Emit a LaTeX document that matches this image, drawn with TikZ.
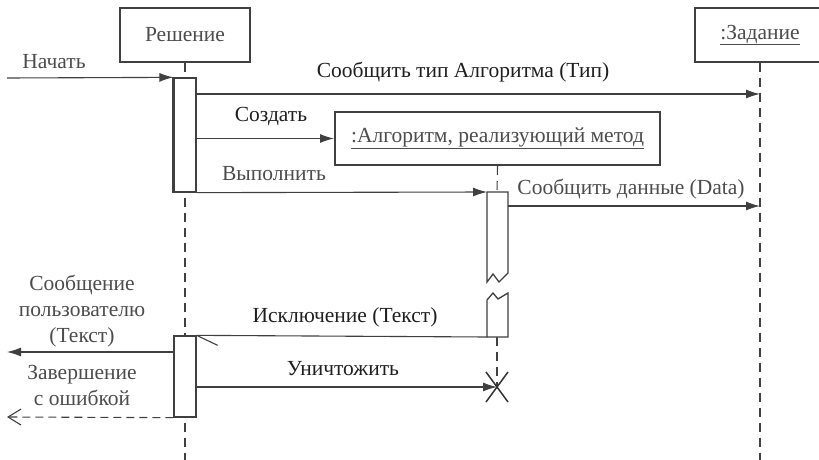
\documentclass[tikz,border=0pt]{standalone}
\usepackage{fontspec}
\setmainfont{Liberation Serif}
\newfontfamily\diagfont{Liberation Serif}
\usetikzlibrary{positioning,arrows.meta}

\begin{document}
\begin{tikzpicture}[
  x=1pt, y=-1pt,
  font=\diagfont\fontsize{21.5}{26}\selectfont,
  >={Latex[length=14pt,width=9pt]},
  obj/.style={
    rectangle, draw=black!75, line width=1.3pt,
    fill=white, minimum width=130pt, minimum height=54pt,
    inner sep=0pt, text=black!70
  },
  algobj/.style={
    obj, line width=2pt, minimum width=325pt, minimum height=53pt
  },
  act/.style={
    rectangle, draw=black!75, line width=1.3pt,
    fill=white, minimum width=22pt, inner sep=0pt
  },
  life/.style={draw=black!75, line width=1.1pt, dash pattern=on 9pt off 6pt},
  msg/.style={->, draw=black!75, line width=1.1pt},
  ret/.style={
    draw=black!75, line width=1.1pt, dash pattern=on 8pt off 5pt,
    -{Straight Barb[length=13pt,width=16pt,line width=1.1pt]}
  },
  lbl/.style={text=black!70, inner sep=1pt, align=center},
  lbldark/.style={text=black!88, inner sep=1pt}
]
\useasboundingbox (0,0) rectangle (819,460);

% objects
\node[obj] (resh) at (185,35) {Решение};
\node[obj] (zad) at (760,35) {\underline{:Задание}};
\node[algobj] (alg) at (497.5,138.5) {\underline{:Алгоритм, реализующий метод}};

% message end points
\coordinate (startin) at (7,78);
\coordinate (zadtype) at (760,94);
\coordinate (zaddata) at (760,206);
\coordinate (algtop) at (497,192);
\coordinate (act2in) at (487,192);
\coordinate (act2out) at (508,206);
\coordinate (act2exc) at (487,337);
\coordinate (algbot) at (497,337);
\coordinate (kill) at (497,387);
\coordinate (userout) at (7,352);
\coordinate (errout) at (7,417);

% lifelines
\draw[life] (resh.south) -- (185,460);
\draw[life] (zad.south) -- (760,460);
\draw[life] (alg.south) -- (algtop);
\draw[life] (algbot) -- (kill);

% activations
\node[act, minimum height=114pt] (act1) at (185,135) {};
\draw[draw=black!75, line width=2.4pt] (act1.north west) -- (act1.south west);
\node[act, minimum height=81pt] (act3) at (185,376.5) {};
\draw[draw=black!75, line width=1.3pt, fill=white]
  (508,192) -- (487,192) -- (487,282) -- (493,274) -- (499,282) -- (508,273) -- cycle;
\draw[draw=black!75, line width=1.3pt, fill=white]
  (487,337) -- (487,300) -- (493,293) -- (498,299) -- (508,293) -- (508,337) -- cycle;

% messages
\draw[msg] (startin) -- (act1.north west);
\draw[msg] (act1.east |- zadtype) -- (zadtype);
\draw[msg] (act1.east |- alg.west) -- (alg.west);
\draw[msg] (act1.south east) -- (act2in);
\draw[msg] (act2out) -- (zaddata);
\draw[msg, -] (act2exc) -- (act3.north east);
\draw[msg, -] (act3.north east) -- ++(21,10);
\draw[msg] (act3.west |- userout) -- (userout);
\draw[msg] (act3.east |- kill) -- (kill);
\draw[ret] (act3.south west) -- (errout);

% destruction
\draw[draw=black!80, line width=1.5pt]
  ([shift={(-11,-15)}]kill) -- ([shift={(11,15)}]kill)
  ([shift={(11,-15)}]kill) -- ([shift={(-11,15)}]kill);

% labels
\node[lbl] at (54,62) {Начать};
\node[lbldark] at (463,72) {Сообщить тип Алгоритма (Тип)};
\node[lbldark] at (271,116) {Создать};
\node[lbl] at (274,174) {Выполнить};
\node[lbl] at (631,189) {Сообщить данные (Data)};
\node[lbldark] at (345,317) {Исключение (Текст)};
\node[lbldark] at (343,369) {Уничтожить};
\node[lbl] at (82,311) {Сообщение\\пользователю\\(Текст)};
\node[lbl] at (82,385) {Завершение\\с ошибкой};

\end{tikzpicture}
\end{document}
